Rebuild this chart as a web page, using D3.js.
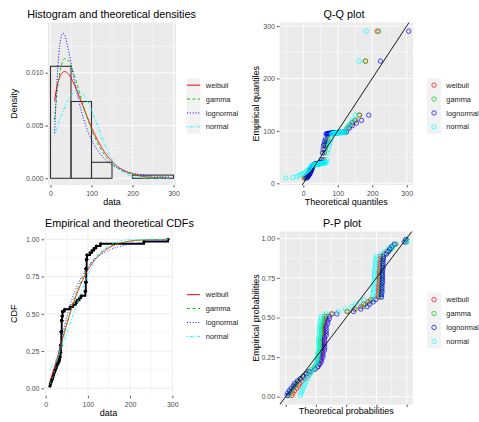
<!DOCTYPE html>
<html>
<head>
<meta charset="utf-8">
<script src="https://cdn.jsdelivr.net/npm/d3@7"></script>
<style>
  body { margin: 0; background: #ffffff; }
  svg { display: block; }
</style>
</head>
<body>
<svg id="chart" width="479" height="422"></svg>
<script>
// ---- observed sample (sorted) ----
const sampleValues = [
  10, 11, 13, 15, 17, 18, 20, 22, 24, 26, 28, 31,
  33, 34, 35, 35, 36, 36, 36, 37, 37, 37, 37, 37, 37, 38, 38, 38, 38, 38, 39, 39, 40, 40,
  45, 58, 65, 72, 75, 80, 84,
  94, 94, 95, 95, 95, 95, 96, 96, 96, 96, 96, 96, 97, 97, 97, 97, 98, 98,
  105, 110, 115, 120, 130, 233, 290
];

// ---- fitted distributions (legend order) ----
const distNames = ["weibull", "gamma", "lognormal", "normal"];
const weibullFit = [1.48, 73.5];     // shape, scale
const gammaFit = [2.25, 0.034];      // shape, rate
const lognormalFit = [3.95, 0.73];   // meanlog, sdlog
const normalFit = [66, 48];          // mean, sd

// ---- histogram breaks and axis ticks ----
const histBreaks = [0, 50, 100, 150, 200, 300];
const densityTicks = [0, 0.005, 0.010];
const densityMinor = [0.0025, 0.0075, 0.0125];
const dataTicks = [0, 100, 200, 300];
const dataMinor = [50, 150, 250];
const quantileTicks = [0, 100, 200, 300];
const quantileMinorX = [-50, 50, 150, 250];
const quantileMinorY = [50, 150, 250];
const probTicks = [0, 0.25, 0.5, 0.75, 1];
const probMinor = [0.125, 0.375, 0.625, 0.875];

// ---- styles ----
const FONT = "'Liberation Sans', Arial, Helvetica, sans-serif";
const distColors = ["#FF0000", "#00CD00", "#0000FF", "#00FFFF"];
const distDash = [null, "3,2.5", "1,1.8", "1,1.8,3.2,1.8"];

// ---- distribution functions ----
function lnGamma(z) {
  const c = [0.99999999999980993, 676.5203681218851, -1259.1392167224028,
    771.32342877765313, -176.61502916214059, 12.507343278686905,
    -0.13857109526572012, 9.9843695780195716e-6, 1.5056327351493116e-7];
  if (z < 0.5) return Math.log(Math.PI / Math.sin(Math.PI * z)) - lnGamma(1 - z);
  z -= 1;
  let s = c[0];
  for (let i = 1; i < 9; i++) s += c[i] / (z + i);
  const t = z + 7.5;
  return 0.5 * Math.log(2 * Math.PI) + (z + 0.5) * Math.log(t) - t + Math.log(s);
}
function gammaP(a, x) {
  if (x <= 0) return 0;
  const lead = -x + a * Math.log(x) - lnGamma(a);
  if (x < a + 1) {
    let ap = a, sum = 1 / a, del = sum;
    for (let k = 0; k < 500; k++) {
      ap += 1; del *= x / ap; sum += del;
      if (Math.abs(del) < Math.abs(sum) * 1e-13) break;
    }
    return sum * Math.exp(lead);
  }
  let b = x + 1 - a, c = 1e300, d = 1 / b, h = d;
  for (let i = 1; i < 500; i++) {
    const an = -i * (i - a);
    b += 2;
    d = an * d + b; if (Math.abs(d) < 1e-300) d = 1e-300;
    c = b + an / c; if (Math.abs(c) < 1e-300) c = 1e-300;
    d = 1 / d;
    const del = d * c; h *= del;
    if (Math.abs(del - 1) < 1e-13) break;
  }
  return 1 - Math.exp(lead) * h;
}
function erfc(x) {
  const z = Math.abs(x), t = 1 / (1 + 0.5 * z);
  const r = t * Math.exp(-z * z - 1.26551223 + t * (1.00002368 + t * (0.37409196 +
    t * (0.09678418 + t * (-0.18628806 + t * (0.27886807 + t * (-1.13520398 +
    t * (1.48851587 + t * (-0.82215223 + t * 0.17087277)))))))));
  return x >= 0 ? r : 2 - r;
}
const normCdf = z => 0.5 * erfc(-z / Math.SQRT2);
function invert(f, p, lo, hi) {
  for (let i = 0; i < 100; i++) {
    const mid = (lo + hi) / 2;
    if (f(mid) < p) lo = mid; else hi = mid;
  }
  return (lo + hi) / 2;
}
const normQ = p => invert(normCdf, p, -12, 12);
const SQ2PI = Math.sqrt(2 * Math.PI);

const fits = [
  { // weibull
    pdf: x => { const [k, l] = weibullFit; return (k / l) * Math.pow(x / l, k - 1) * Math.exp(-Math.pow(x / l, k)); },
    cdf: x => { const [k, l] = weibullFit; return 1 - Math.exp(-Math.pow(x / l, k)); },
    q: p => { const [k, l] = weibullFit; return l * Math.pow(-Math.log(1 - p), 1 / k); }
  },
  { // gamma
    pdf: x => { const [k, r] = gammaFit; return Math.exp(k * Math.log(r) + (k - 1) * Math.log(x) - r * x - lnGamma(k)); },
    cdf: x => { const [k, r] = gammaFit; return gammaP(k, r * x); },
    q: p => { const [k, r] = gammaFit; return invert(x => gammaP(k, r * x), p, 0, 5000); }
  },
  { // lognormal
    pdf: x => { const [m, s] = lognormalFit; const z = (Math.log(x) - m) / s; return Math.exp(-z * z / 2) / (x * s * SQ2PI); },
    cdf: x => { const [m, s] = lognormalFit; return normCdf((Math.log(x) - m) / s); },
    q: p => { const [m, s] = lognormalFit; return Math.exp(m + s * normQ(p)); }
  },
  { // normal
    pdf: x => { const [m, s] = normalFit; const z = (x - m) / s; return Math.exp(-z * z / 2) / (s * SQ2PI); },
    cdf: x => { const [m, s] = normalFit; return normCdf((x - m) / s); },
    q: p => { const [m, s] = normalFit; return m + s * normQ(p); }
  }
];

// ---- derived sample quantities ----
const sorted = sampleValues.slice().sort((a, b) => a - b);
const n = sorted.length;
const plotPos = sorted.map((v, i) => (i + 0.5) / n);
const xMin = d3.min(sorted), xMax = d3.max(sorted);
const grid = d3.range(201).map(i => xMin + (xMax - xMin) * i / 200);

const svg = d3.select("#chart");
let clipCount = 0;

function styleAxis(g) {
  g.select(".domain").remove();
  g.selectAll(".tick line").attr("stroke", "#333333").attr("stroke-width", 0.8);
  g.selectAll(".tick text").attr("fill", "#4D4D4D").attr("font-size", 7).attr("font-family", FONT);
}

function buildPanel(o) {
  const x = d3.scaleLinear().domain(o.xDomain).range(o.xRange);
  const y = d3.scaleLinear().domain(o.yDomain).range(o.yRange);
  const root = svg.append("g");
  root.append("rect")
    .attr("x", o.left).attr("y", o.top)
    .attr("width", o.right - o.left).attr("height", o.bottom - o.top)
    .attr("fill", o.bg);
  const gg = root.append("g");
  gg.selectAll(null).data(o.xMinor).join("line")
    .attr("x1", d => x(d)).attr("x2", d => x(d)).attr("y1", o.top).attr("y2", o.bottom)
    .attr("stroke", o.grid).attr("stroke-width", 0.45);
  gg.selectAll(null).data(o.yMinor).join("line")
    .attr("y1", d => y(d)).attr("y2", d => y(d)).attr("x1", o.left).attr("x2", o.right)
    .attr("stroke", o.grid).attr("stroke-width", 0.45);
  gg.selectAll(null).data(o.xTicks).join("line")
    .attr("x1", d => x(d)).attr("x2", d => x(d)).attr("y1", o.top).attr("y2", o.bottom)
    .attr("stroke", o.grid).attr("stroke-width", 0.9);
  gg.selectAll(null).data(o.yTicks).join("line")
    .attr("y1", d => y(d)).attr("y2", d => y(d)).attr("x1", o.left).attr("x2", o.right)
    .attr("stroke", o.grid).attr("stroke-width", 0.9);

  const ax = d3.axisBottom(x).tickValues(o.xTicks).tickSize(2.5).tickPadding(3.5)
    .tickFormat(o.xFmt ? o.xFmt : () => "");
  root.append("g").attr("transform", `translate(0,${o.bottom})`).call(ax).call(styleAxis);
  const ay = d3.axisLeft(y).tickValues(o.yTicks).tickSize(2.5).tickPadding(2).tickFormat(o.yFmt);
  root.append("g").attr("transform", `translate(${o.left},0)`).call(ay).call(styleAxis);

  const id = "clip" + (clipCount++);
  svg.append("clipPath").attr("id", id).append("rect")
    .attr("x", o.left).attr("y", o.top)
    .attr("width", o.right - o.left).attr("height", o.bottom - o.top);
  const plot = root.append("g").attr("clip-path", `url(#${id})`);

  // titles
  root.append("text").attr("x", o.titleX).attr("y", o.titleY)
    .attr("text-anchor", o.titleAnchor || "middle")
    .attr("font-family", FONT).attr("font-size", 10.8).attr("fill", "#000")
    .text(o.title);
  root.append("text").attr("x", (o.left + o.right) / 2).attr("y", o.xTitleY)
    .attr("text-anchor", "middle").attr("font-family", FONT).attr("font-size", 9).attr("fill", "#000")
    .text(o.xTitle);
  root.append("text")
    .attr("transform", `translate(${o.yTitleX},${(o.top + o.bottom) / 2}) rotate(-90)`)
    .attr("text-anchor", "middle").attr("font-family", FONT).attr("font-size", 9).attr("fill", "#000")
    .text(o.yTitle);

  return { x, y, plot, root, o };
}

function legend(root, cx, cy, kind, keyBg) {
  const step = 13.9;
  const g = root.append("g");
  distNames.forEach((name, i) => {
    const yc = cy + (i - 1.5) * step;
    g.append("rect").attr("x", cx - 7).attr("y", yc - 7).attr("width", 14).attr("height", 14).attr("fill", keyBg);
    if (kind === "line") {
      g.append("line").attr("x1", cx - 6.5).attr("x2", cx + 6.5).attr("y1", yc).attr("y2", yc)
        .attr("stroke", distColors[i]).attr("stroke-width", 1)
        .attr("stroke-dasharray", distDash[i]);
    } else {
      g.append("circle").attr("cx", cx).attr("cy", yc).attr("r", 2.2)
        .attr("fill", "none").attr("stroke", distColors[i]).attr("stroke-width", 0.7);
    }
    g.append("text").attr("x", cx + 12.3).attr("y", yc).attr("dy", "0.35em")
      .attr("font-family", FONT).attr("font-size", 7.4).attr("fill", "#1A1A1A").text(name);
  });
}

// ===== Histogram and theoretical densities =====
const p1 = buildPanel({
  left: 48, right: 176, top: 22.5, bottom: 185,
  xDomain: [0, 300], xRange: [50.5, 173.5],
  yDomain: [0, 0.010], yRange: [178.3, 72.7],
  xTicks: dataTicks, yTicks: densityTicks, xMinor: dataMinor, yMinor: densityMinor,
  xFmt: d3.format("d"), yFmt: d3.format(".3f"),
  bg: "#EBEBEB", grid: "#FFFFFF",
  title: "Histogram and theoretical densities", titleX: 111.5, titleY: 17.8,
  xTitle: "data", xTitleY: 205, yTitle: "Density", yTitleX: 16.5
});
const bins = d3.bin().domain([histBreaks[0], histBreaks[histBreaks.length - 1]])
  .thresholds(histBreaks.slice(1, -1))(sorted);
p1.plot.selectAll(null).data(bins).join("rect")
  .attr("x", d => p1.x(d.x0))
  .attr("width", d => p1.x(d.x1) - p1.x(d.x0))
  .attr("y", d => p1.y(d.length / (n * (d.x1 - d.x0))))
  .attr("height", d => p1.y(0) - p1.y(d.length / (n * (d.x1 - d.x0))))
  .attr("fill", "none").attr("stroke", "#333333").attr("stroke-width", 1.1);
fits.forEach((f, i) => {
  p1.plot.append("path")
    .datum(grid.map(v => [v, f.pdf(v)]))
    .attr("d", d3.line().x(d => p1.x(d[0])).y(d => p1.y(d[1])))
    .attr("fill", "none").attr("stroke", distColors[i]).attr("stroke-width", 1)
    .attr("stroke-dasharray", distDash[i]);
});
legend(p1.root, 193.5, 106, "line", "#F2F2F2");

// ===== Q-Q plot =====
const p2 = buildPanel({
  left: 279.5, right: 413, top: 22.5, bottom: 185,
  xDomain: [0, 300], xRange: [303.3, 406.7],
  yDomain: [0, 300], yRange: [183.3, 26],
  xTicks: quantileTicks, yTicks: quantileTicks, xMinor: quantileMinorX, yMinor: quantileMinorY,
  xFmt: d3.format("d"), yFmt: d3.format("d"),
  bg: "#EBEBEB", grid: "#FFFFFF",
  title: "Q-Q plot", titleX: 344, titleY: 17.8,
  xTitle: "Theoretical quantiles", xTitleY: 204.5, yTitle: "Empirical quantiles", yTitleX: 259
});
fits.forEach((f, i) => {
  p2.plot.selectAll(null).data(sorted.map((v, j) => [f.q(plotPos[j]), v])).join("circle")
    .attr("cx", d => p2.x(d[0])).attr("cy", d => p2.y(d[1])).attr("r", 2.2)
    .attr("fill", "none").attr("stroke", distColors[i]).attr("stroke-width", 0.7);
});
p2.plot.append("line")
  .attr("x1", p2.x(-100)).attr("y1", p2.y(-100)).attr("x2", p2.x(400)).attr("y2", p2.y(400))
  .attr("stroke", "#000").attr("stroke-width", 0.9);
legend(p2.root, 434, 106, "point", "#F2F2F2");

// ===== Empirical and theoretical CDFs =====
const p3 = buildPanel({
  left: 44, right: 173.2, top: 231.5, bottom: 395.8,
  xDomain: [0, 300], xRange: [45.7, 172.3],
  yDomain: [0, 1], yRange: [388.3, 239.3],
  xTicks: dataTicks, yTicks: probTicks, xMinor: dataMinor, yMinor: probMinor,
  xFmt: d3.format("d"), yFmt: d3.format(".2f"),
  bg: "#FFFFFF", grid: "#EBEBEB",
  title: "Empirical and theoretical CDFs", titleX: 45, titleAnchor: "start", titleY: 226.5,
  xTitle: "data", xTitleY: 415.5, yTitle: "CDF", yTitleX: 16.5
});
const ecdfPts = sorted.map(v => [v, sorted.filter(u => u <= v).length / n]);
const ecdfSteps = ecdfPts.filter((d, i) => i === ecdfPts.length - 1 || ecdfPts[i + 1][0] !== d[0]);
p3.plot.append("path")
  .datum(ecdfSteps)
  .attr("d", d3.line().x(d => p3.x(d[0])).y(d => p3.y(d[1])).curve(d3.curveStepAfter))
  .attr("fill", "none").attr("stroke", "#000").attr("stroke-width", 1.9);
p3.plot.selectAll(null).data(ecdfPts).join("circle")
  .attr("cx", d => p3.x(d[0])).attr("cy", d => p3.y(d[1])).attr("r", 1.6).attr("fill", "#000");
fits.forEach((f, i) => {
  p3.plot.append("path")
    .datum(grid.map(v => [v, f.cdf(v)]))
    .attr("d", d3.line().x(d => p3.x(d[0])).y(d => p3.y(d[1])))
    .attr("fill", "none").attr("stroke", distColors[i]).attr("stroke-width", 0.9)
    .attr("stroke-dasharray", distDash[i]);
});
legend(p3.root, 193.5, 315.5, "line", "#FFFFFF");

// ===== P-P plot =====
const p4 = buildPanel({
  left: 279.6, right: 412.8, top: 231.5, bottom: 404.6,
  xDomain: [0, 1], xRange: [285.7, 406.7],
  yDomain: [0, 1], yRange: [396.7, 238.3],
  xTicks: probTicks, yTicks: probTicks, xMinor: probMinor, yMinor: probMinor,
  xFmt: null, yFmt: d3.format(".2f"),
  bg: "#EBEBEB", grid: "#FFFFFF",
  title: "P-P plot", titleX: 342, titleY: 226.5,
  xTitle: "Theoretical probabilities", xTitleY: 414, yTitle: "Empirical probabilities", yTitleX: 259
});
fits.forEach((f, i) => {
  p4.plot.selectAll(null).data(sorted.map((v, j) => [f.cdf(v), plotPos[j]])).join("circle")
    .attr("cx", d => p4.x(d[0])).attr("cy", d => p4.y(d[1])).attr("r", 2.2)
    .attr("fill", "none").attr("stroke", distColors[i]).attr("stroke-width", 0.7);
});
p4.plot.append("line")
  .attr("x1", p4.x(-0.2)).attr("y1", p4.y(-0.2)).attr("x2", p4.x(1.2)).attr("y2", p4.y(1.2))
  .attr("stroke", "#000").attr("stroke-width", 0.9);
legend(p4.root, 434, 320.5, "point", "#F2F2F2");
</script>
</body>
</html>
